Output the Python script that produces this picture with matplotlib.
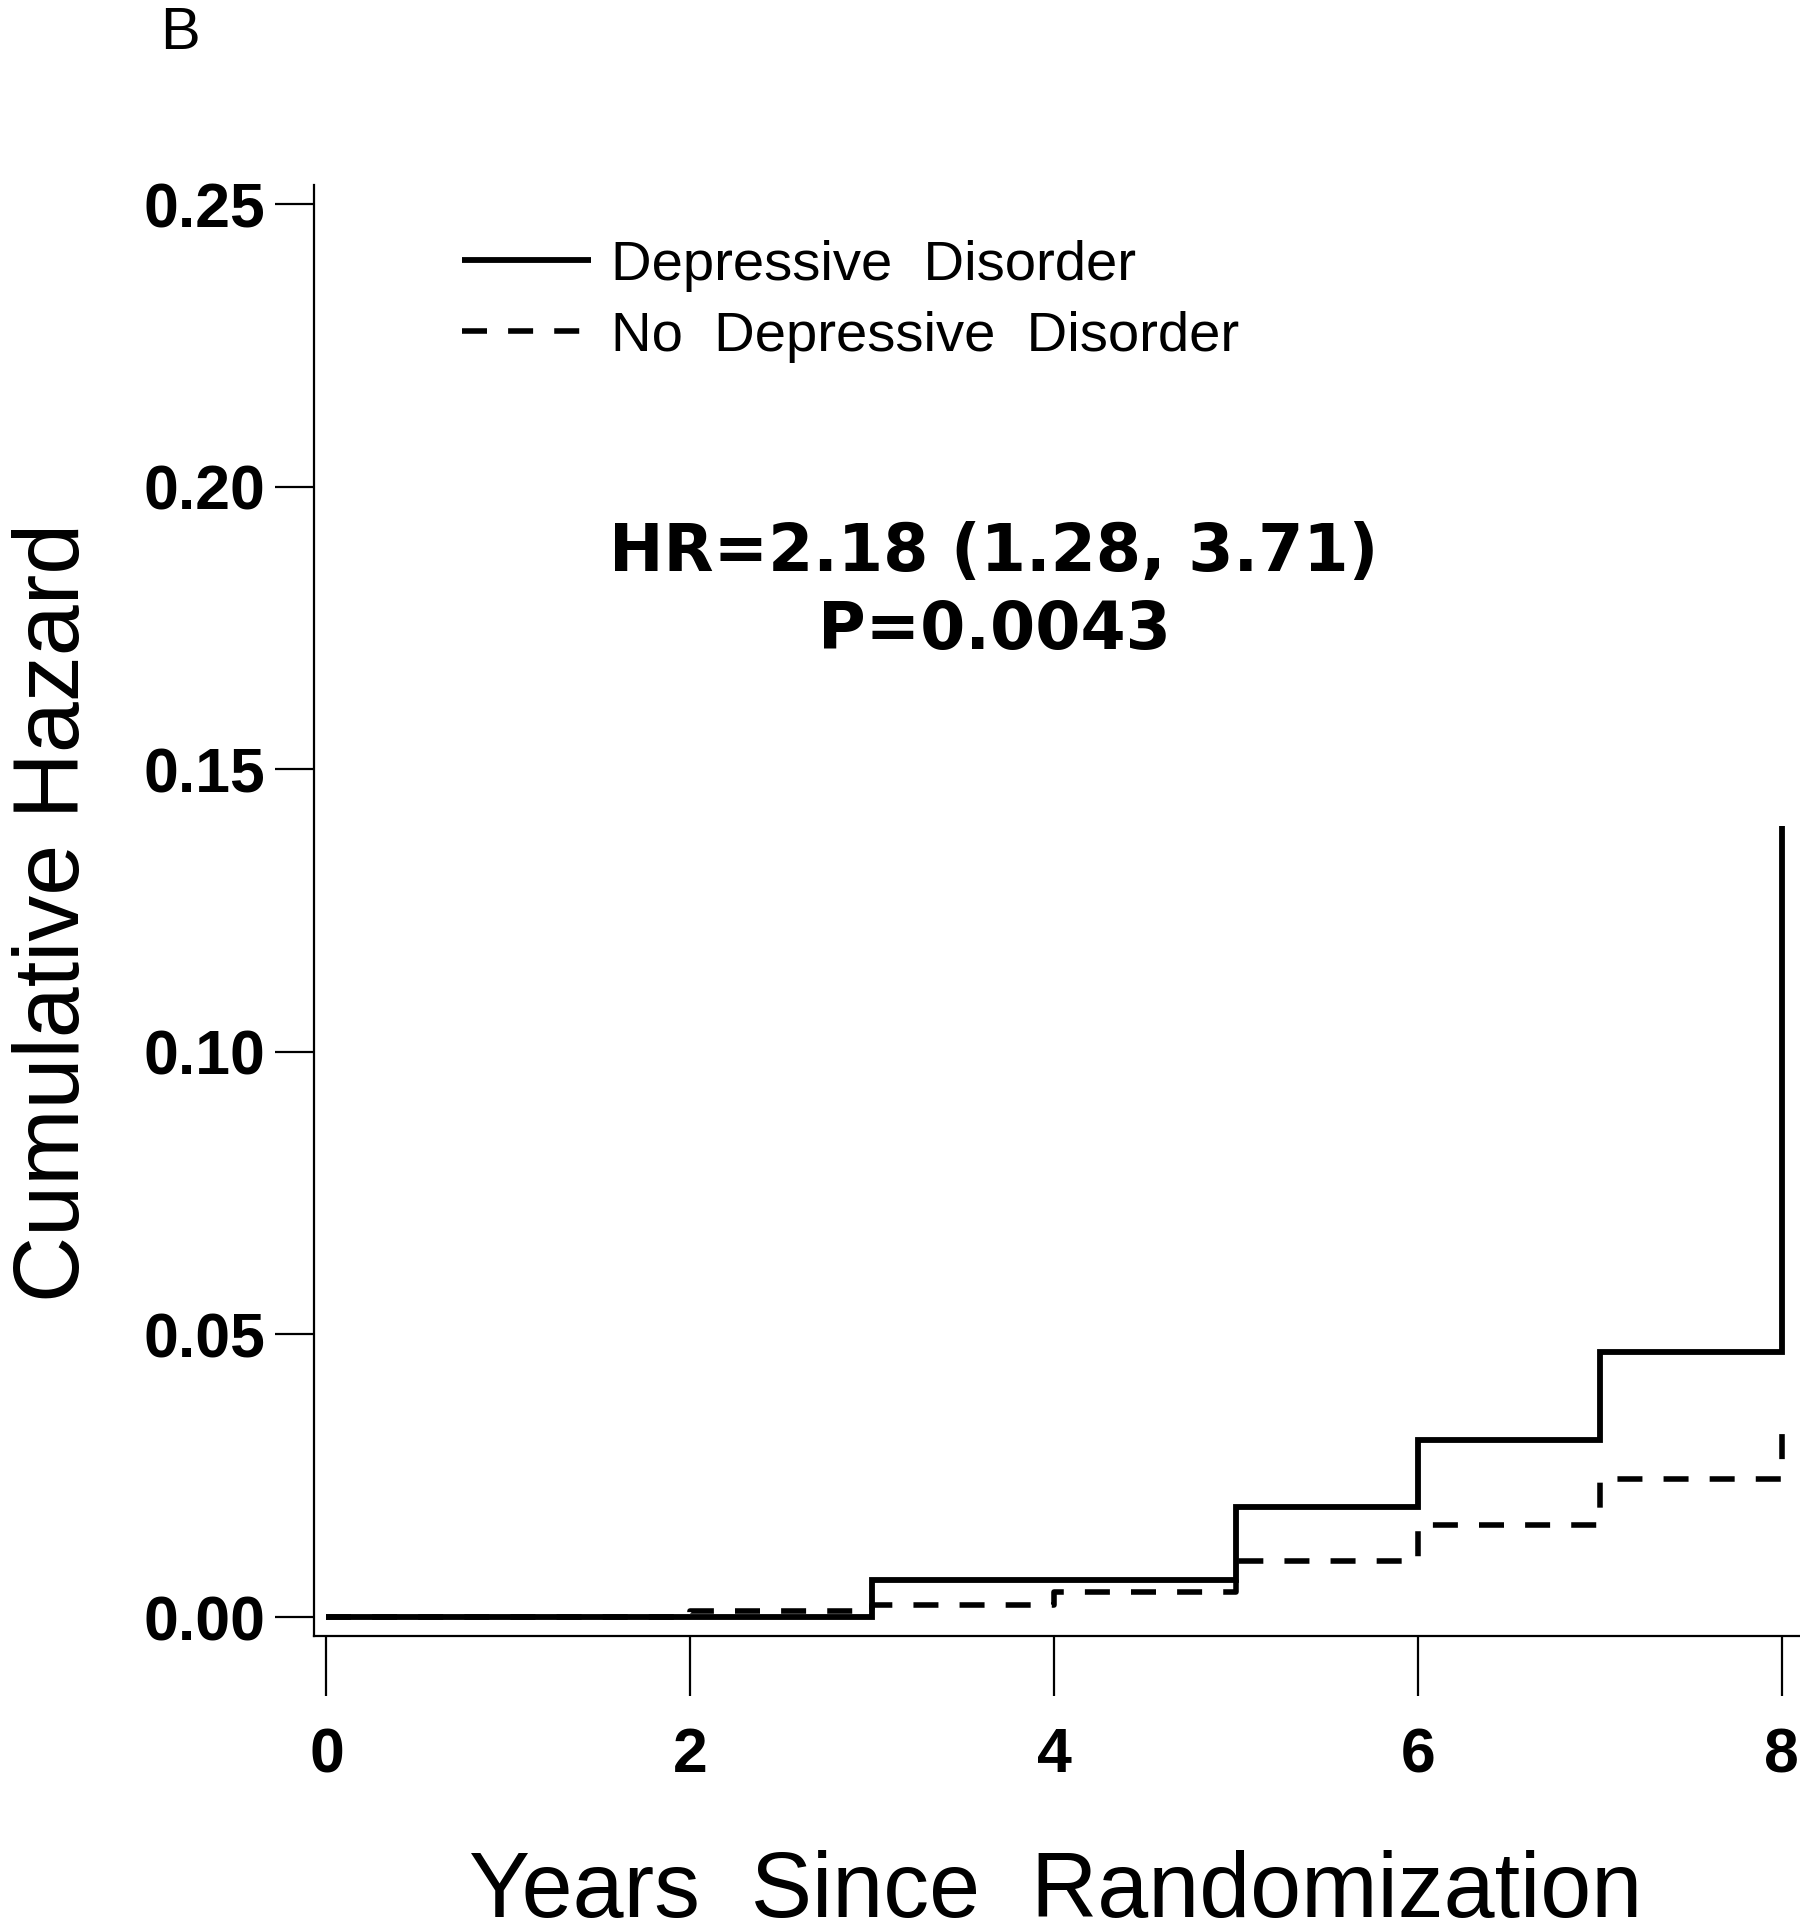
import matplotlib
matplotlib.use("Agg")
import matplotlib.pyplot as plt

# ---- data ----
dep_times = [0, 3, 5, 6, 7, 8]
dep_hazard = [0.0, 0.0065, 0.0194, 0.0314, 0.0469, 0.1400]
nodep_times = [0, 2, 3, 4, 5, 6, 7, 8]
nodep_hazard = [0.0, 0.0010, 0.0022, 0.0044, 0.0099, 0.0162, 0.0244, 0.0360]
series_labels = ["Depressive  Disorder", "No  Depressive  Disorder"]
x_ticks = [0, 2, 4, 6, 8]
y_ticks = [0.00, 0.05, 0.10, 0.15, 0.20, 0.25]
y_ticklabels = ["0.00", "0.05", "0.10", "0.15", "0.20", "0.25"]
hr_line1 = "HR=2.18 (1.28, 3.71)"
hr_line2 = "P=0.0043"

W, H = 1800, 1923
fig = plt.figure(figsize=(W / 100, H / 100), dpi=100)
fig.patch.set_facecolor("white")

left, right = 314 / W, 1.0
bottom, top = 1 - 1636 / H, 1 - 185 / H
ax = fig.add_axes([left, bottom, right - left, top - bottom])

ax.set_xlim(-0.0685, 8.101)
ax.set_ylim(-0.00336, 0.2534)

ax.step(dep_times, dep_hazard, where="post", color="black", lw=4.2,
        solid_joinstyle="miter", solid_capstyle="butt", label=series_labels[0])
ax.step(nodep_times, nodep_hazard, where="post", color="black", lw=4.0,
        linestyle=(0, (4.5, 3.8)), dash_capstyle="butt", label=series_labels[1])

for s in ["top", "right"]:
    ax.spines[s].set_visible(False)
for s in ["left", "bottom"]:
    ax.spines[s].set_linewidth(1.6)

ax.set_xticks(x_ticks)
ax.set_xticklabels([str(t) for t in x_ticks])
ax.set_yticks(y_ticks)
ax.set_yticklabels(y_ticklabels)
ax.tick_params(axis="x", length=43, width=1.6, pad=22, labelsize=45)
ax.tick_params(axis="y", length=28, width=1.6, pad=7, labelsize=45)
for lab in ax.get_xticklabels() + ax.get_yticklabels():
    lab.set_fontfamily(["Liberation Sans", "DejaVu Sans"])
    lab.set_fontweight("bold")

leg = ax.legend(loc="upper left", bbox_to_anchor=(462 / W, 1 - 240 / H),
                bbox_transform=fig.transFigure, frameon=False,
                handlelength=2.3, handletextpad=0.35, labelspacing=0.33,
                borderpad=0, borderaxespad=0,
                prop={"family": ["Liberation Sans", "DejaVu Sans"], "size": 40.5})

fig.text(994 / W, 1 - 571 / H, hr_line1, ha="center", va="baseline",
         fontsize=46.8, fontweight="bold", family=["DejaVu Sans"])
fig.text(994 / W, 1 - 649 / H, hr_line2, ha="center", va="baseline",
         fontsize=46.8, fontweight="bold", family=["DejaVu Sans"])

fig.text(79 / W, 1 - 912 / H, "Cumulative Hazard", rotation=90,
         rotation_mode="anchor", ha="center", va="baseline",
         fontsize=66, family=["Liberation Sans", "DejaVu Sans"])
fig.text(1056 / W, 1 - 1917 / H, "Years  Since  Randomization",
         ha="center", va="baseline", fontsize=66,
         family=["Liberation Sans", "DejaVu Sans"])

fig.text(160 / W, 1 - 49 / H, "B", ha="left", va="baseline",
         fontsize=43, family=["Liberation Sans", "DejaVu Sans"])

fig.savefig("out.png", dpi=100, facecolor="white")
